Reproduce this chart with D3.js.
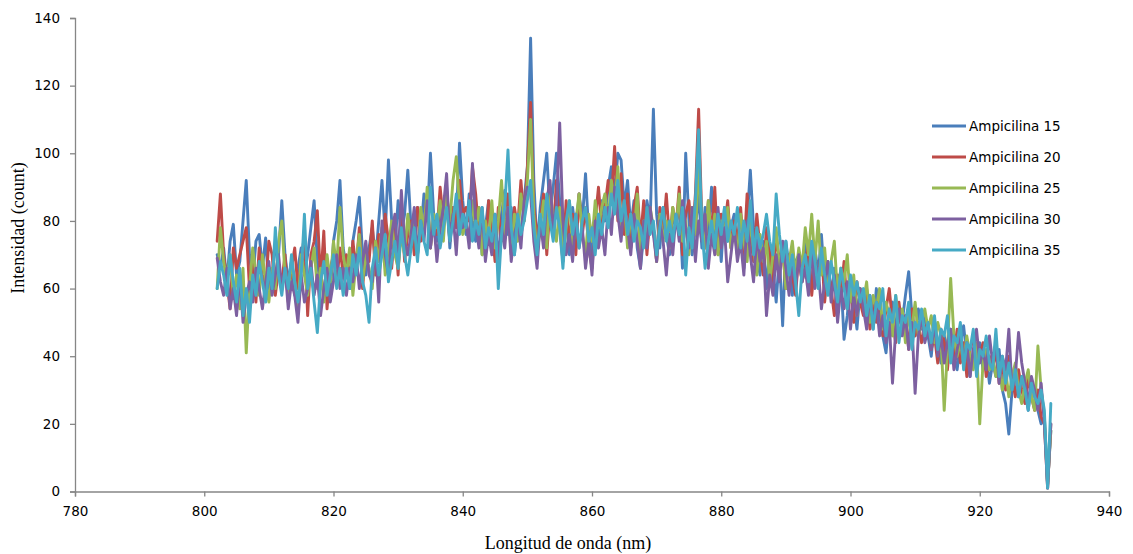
<!DOCTYPE html>
<html>
<head>
<meta charset="utf-8">
<script src="https://cdn.jsdelivr.net/npm/d3@7"></script>
<style>
  html, body { margin: 0; padding: 0; background: #fff; }
  svg { display: block; }
</style>
</head>
<body>
<svg id="chart" width="1133" height="554"></svg>
<script>
// Spectra sampled every 0.5 nm from 802 nm to 931 nm
const wavelengthStart = 802;
const wavelengthStep = 0.5;

const ampicilina15 = [
  70, 66, 72, 62, 74, 79, 64, 68, 80, 92, 70, 62, 74, 76, 66, 75, 60, 64, 72, 70,
  86, 70, 62, 68, 58, 66, 72, 64, 70, 78, 86, 68, 60, 72, 64, 58, 74, 80, 92, 72,
  66, 60, 74, 80, 87, 70, 64, 72, 78, 68, 80, 92, 76, 98, 80, 72, 86, 76, 82, 95,
  78, 72, 84, 76, 88, 80, 100, 82, 74, 86, 78, 90, 72, 84, 80, 103, 86, 76, 88, 80,
  74, 84, 70, 78, 86, 72, 80, 68, 82, 89, 76, 84, 70, 80, 76, 86, 96, 134, 92, 72,
  84, 92, 100, 82, 90, 100, 86, 74, 82, 70, 84, 76, 88, 80, 94, 76, 70, 82, 74, 86,
  80, 90, 96, 88, 100, 98, 84, 92, 78, 86, 72, 66, 76, 86, 80, 113, 82, 72, 84, 76,
  70, 82, 78, 86, 66, 100, 80, 70, 78, 88, 72, 84, 76, 90, 72, 80, 68, 84, 74, 78,
  82, 70, 76, 66, 80, 95, 78, 70, 64, 74, 60, 72, 66, 56, 70, 49, 74, 66, 58, 68,
  70, 62, 74, 66, 60, 72, 64, 76, 62, 68, 58, 66, 54, 64, 45, 52, 62, 56, 48, 60,
  58, 50, 56, 48, 60, 52, 46, 41, 52, 56, 48, 54, 50, 58, 65, 52, 46, 54, 48, 52,
  46, 40, 50, 44, 38, 46, 42, 48, 40, 36, 44, 49, 40, 34, 42, 38, 44, 36, 40, 32,
  38, 34, 42, 30, 26, 17, 30, 36, 28, 34, 30, 24, 32, 28, 24, 20, 22, 2, 18
];

const ampicilina20 = [
  74, 88, 70, 62, 54, 72, 66, 70, 74, 78, 60, 68, 56, 72, 64, 60, 74, 70, 58, 66,
  62, 70, 56, 66, 72, 60, 68, 76, 52, 70, 74, 83, 62, 77, 54, 66, 70, 62, 72, 64,
  70, 62, 74, 66, 78, 60, 72, 68, 80, 64, 76, 70, 82, 74, 66, 78, 64, 84, 68, 76,
  80, 70, 84, 74, 78, 88, 72, 82, 76, 90, 80, 86, 74, 84, 78, 92, 82, 84, 80, 96,
  88, 76, 82, 70, 86, 78, 68, 84, 74, 80, 88, 72, 84, 78, 92, 80, 96, 115, 84, 76,
  80, 88, 70, 84, 76, 92, 78, 68, 86, 74, 82, 70, 88, 76, 84, 72, 66, 80, 90, 78,
  84, 92, 86, 102, 80, 94, 76, 88, 72, 84, 90, 74, 86, 70, 82, 78, 68, 84, 76, 88,
  74, 84, 78, 90, 70, 82, 86, 74, 88, 113, 80, 72, 86, 76, 90, 70, 82, 78, 86, 72,
  80, 74, 84, 70, 88, 76, 68, 82, 72, 64, 78, 70, 62, 76, 68, 72, 60, 70, 64, 58,
  70, 62, 66, 74, 58, 68, 62, 72, 56, 66, 60, 52, 64, 58, 68, 54, 60, 50, 62, 56,
  52, 60, 48, 56, 50, 58, 46, 54, 60, 50, 44, 56, 48, 52, 42, 54, 46, 50, 44, 48,
  50, 42, 46, 38, 48, 44, 36, 46, 40, 48, 38, 44, 34, 42, 46, 36, 40, 44, 34, 40,
  36, 42, 32, 38, 30, 40, 34, 28, 36, 30, 26, 34, 28, 24, 30, 22, 20, 1, 20
];

const ampicilina25 = [
  60, 78, 68, 62, 70, 58, 64, 54, 66, 41, 60, 72, 64, 58, 70, 62, 56, 66, 60, 74,
  80, 64, 58, 68, 62, 54, 70, 64, 58, 66, 72, 60, 66, 56, 70, 62, 74, 66, 84, 70,
  64, 72, 58, 68, 76, 62, 70, 66, 60, 74, 68, 78, 64, 72, 80, 70, 66, 76, 70, 82,
  74, 80, 70, 84, 76, 90, 72, 82, 78, 86, 74, 88, 80, 92, 99, 84, 76, 80, 74, 86,
  78, 84, 70, 80, 74, 86, 72, 80, 92, 76, 84, 70, 82, 74, 88, 80, 92, 110, 82, 70,
  78, 86, 72, 90, 80, 74, 84, 68, 78, 86, 72, 80, 88, 76, 70, 82, 74, 86, 78, 84,
  88, 80, 92, 84, 96, 78, 86, 72, 82, 76, 88, 70, 80, 74, 84, 78, 68, 82, 74, 80,
  72, 84, 78, 88, 74, 80, 70, 84, 76, 96, 80, 72, 86, 74, 82, 70, 80, 76, 84, 72,
  78, 70, 82, 74, 68, 80, 72, 64, 76, 68, 74, 62, 70, 78, 66, 72, 60, 68, 74, 64,
  72, 66, 78, 70, 82, 68, 80, 64, 72, 60, 68, 74, 58, 66, 62, 70, 56, 64, 52, 60,
  56, 62, 50, 58, 54, 60, 48, 56, 52, 46, 58, 50, 54, 44, 52, 48, 56, 46, 50, 54,
  48, 52, 44, 50, 46, 24, 42, 63, 46, 40, 44, 38, 46, 40, 36, 44, 20, 38, 42, 36,
  40, 34, 38, 30, 36, 28, 34, 38, 30, 26, 32, 36, 28, 24, 43, 30, 22, 2, 18
];

const ampicilina30 = [
  69, 62, 58, 66, 54, 60, 52, 64, 50, 58, 62, 56, 66, 60, 54, 62, 68, 58, 64, 70,
  60, 66, 54, 62, 58, 50, 64, 56, 60, 68, 58, 64, 52, 60, 66, 56, 62, 70, 60, 66,
  58, 66, 62, 70, 60, 68, 74, 64, 62, 72, 56, 80, 70, 64, 76, 82, 68, 89, 74, 70,
  76, 84, 70, 80, 74, 86, 72, 80, 68, 78, 84, 94, 74, 82, 70, 86, 78, 80, 72, 97,
  80, 72, 84, 68, 76, 70, 82, 66, 78, 72, 84, 68, 76, 80, 72, 86, 90, 88, 74, 66,
  80, 72, 86, 92, 78, 84, 109, 80, 70, 76, 68, 82, 72, 78, 66, 74, 64, 80, 72, 78,
  70, 84, 76, 90, 82, 74, 86, 78, 70, 82, 74, 66, 80, 72, 84, 76, 68, 80, 74, 64,
  76, 70, 82, 74, 86, 78, 72, 84, 68, 80, 74, 82, 66, 76, 70, 84, 72, 78, 62, 70,
  78, 68, 74, 64, 80, 70, 62, 76, 68, 72, 52, 64, 58, 70, 62, 74, 66, 58, 68, 60,
  70, 62, 66, 58, 72, 60, 66, 54, 62, 68, 56, 64, 50, 60, 54, 62, 48, 58, 52, 60,
  54, 48, 58, 50, 56, 46, 52, 44, 50, 32, 48, 54, 46, 52, 42, 50, 29, 46, 52, 44,
  48, 42, 50, 40, 46, 38, 44, 48, 36, 42, 46, 38, 44, 34, 42, 48, 38, 42, 36, 46,
  38, 44, 32, 40, 36, 48, 30, 34, 47, 38, 32, 26, 34, 30, 24, 32, 20, 1, 20
];

const ampicilina35 = [
  60, 68, 64, 58, 70, 62, 56, 66, 52, 60, 50, 64, 58, 68, 62, 56, 66, 60, 78, 64,
  58, 66, 60, 70, 62, 56, 64, 82, 60, 66, 56, 47, 62, 68, 58, 64, 70, 60, 66, 58,
  66, 60, 70, 64, 72, 62, 58, 50, 66, 72, 64, 70, 76, 62, 68, 74, 66, 78, 70, 64,
  72, 78, 68, 80, 74, 70, 90, 76, 82, 72, 78, 84, 74, 80, 88, 76, 82, 78, 86, 74,
  80, 76, 84, 72, 78, 74, 82, 60, 76, 84, 101, 78, 70, 82, 76, 80, 86, 92, 78, 70,
  82, 76, 88, 80, 74, 84, 78, 66, 80, 86, 76, 82, 72, 80, 84, 74, 78, 70, 82, 76,
  84, 78, 88, 82, 92, 80, 86, 76, 82, 74, 80, 78, 72, 84, 76, 80, 70, 78, 84, 74,
  80, 74, 82, 76, 84, 64, 78, 72, 86, 107, 78, 66, 74, 80, 72, 82, 76, 84, 74, 80,
  76, 84, 72, 80, 74, 86, 70, 78, 72, 76, 82, 74, 70, 88, 76, 68, 74, 64, 70, 62,
  52, 66, 70, 62, 74, 68, 60, 72, 64, 58, 68, 62, 56, 66, 60, 54, 64, 58, 62, 56,
  60, 52, 58, 48, 56, 54, 60, 46, 54, 50, 58, 44, 52, 50, 56, 42, 50, 48, 54, 46,
  50, 44, 52, 42, 48, 46, 52, 38, 46, 44, 50, 36, 44, 42, 48, 34, 42, 40, 46, 38,
  36, 48, 34, 40, 32, 38, 30, 36, 28, 34, 30, 24, 32, 28, 26, 30, 24, 1, 26
];

const seriesNames = ["Ampicilina 15", "Ampicilina 20", "Ampicilina 25", "Ampicilina 30", "Ampicilina 35"];
const seriesColors = ["#4A7EBB", "#BE4B48", "#98B954", "#7D60A0", "#46AAC5"];
const xTicks = [780, 800, 820, 840, 860, 880, 900, 920, 940];
const yTicks = [0, 20, 40, 60, 80, 100, 120, 140];

const seriesValues = [ampicilina15, ampicilina20, ampicilina25, ampicilina30, ampicilina35];
const wavelength = ampicilina15.map((_, i) => wavelengthStart + i * wavelengthStep);

const svg = d3.select("#chart");
const axisColor = "#868686";
const plot = { left: 75, right: 1109, top: 18, bottom: 491.5 };

const x = d3.scaleLinear().domain([780, 940]).range([plot.left, plot.right]);
const y = d3.scaleLinear().domain([0, 140]).range([plot.bottom, plot.top]);

// Axes
const xAxis = svg.append("g")
  .attr("transform", `translate(0,${plot.bottom})`)
  .call(d3.axisBottom(x).tickValues(xTicks).tickSize(5).tickPadding(10).tickFormat(d3.format("d")));
const yAxis = svg.append("g")
  .attr("transform", `translate(${plot.left},0)`)
  .call(d3.axisLeft(y).tickValues(yTicks).tickSize(5).tickPadding(10).tickFormat(d3.format("d")));

[xAxis, yAxis].forEach(g => {
  g.select(".domain").attr("stroke", axisColor).attr("stroke-width", 1.3);
  g.selectAll(".tick line").attr("stroke", axisColor).attr("stroke-width", 1.3);
  g.selectAll(".tick text")
    .attr("fill", "#000")
    .style("font-family", "'DejaVu Sans', Verdana, sans-serif")
    .style("font-size", "13.5px");
});

// Spectra, drawn in series order so the last one sits on top
const line = d3.line()
  .x((d, i) => x(wavelength[i]))
  .y(d => y(d))
  .curve(d3.curveLinear);

svg.append("g").selectAll("path")
  .data(seriesValues)
  .join("path")
  .attr("d", line)
  .attr("fill", "none")
  .attr("stroke", (d, i) => seriesColors[i])
  .attr("stroke-width", 2.9)
  .attr("stroke-linejoin", "round")
  .attr("stroke-linecap", "round");

// Axis titles
svg.append("text")
  .attr("x", (plot.left + plot.right) / 2 - 24)
  .attr("y", 549)
  .attr("text-anchor", "middle")
  .style("font-family", "'Liberation Serif', 'Times New Roman', serif")
  .style("font-size", "18px")
  .text("Longitud de onda (nm)");

svg.append("text")
  .attr("transform", "translate(24,228) rotate(-90)")
  .attr("text-anchor", "middle")
  .style("font-family", "'Liberation Serif', 'Times New Roman', serif")
  .style("font-size", "18px")
  .text("Intensidad (count)");

// Legend
const legend = svg.append("g").attr("transform", "translate(932,126)");
const rows = legend.selectAll("g")
  .data(seriesNames)
  .join("g")
  .attr("transform", (d, i) => `translate(0,${i * 31})`);
rows.append("line")
  .attr("x1", 0).attr("x2", 34)
  .attr("y1", 0).attr("y2", 0)
  .attr("stroke", (d, i) => seriesColors[i])
  .attr("stroke-width", 2.9);
rows.append("text")
  .attr("x", 37)
  .attr("y", 0)
  .attr("dy", "0.35em")
  .style("font-family", "'DejaVu Sans', Verdana, sans-serif")
  .style("font-size", "13.5px")
  .attr("fill", "#000")
  .text(d => d);
</script>
</body>
</html>
